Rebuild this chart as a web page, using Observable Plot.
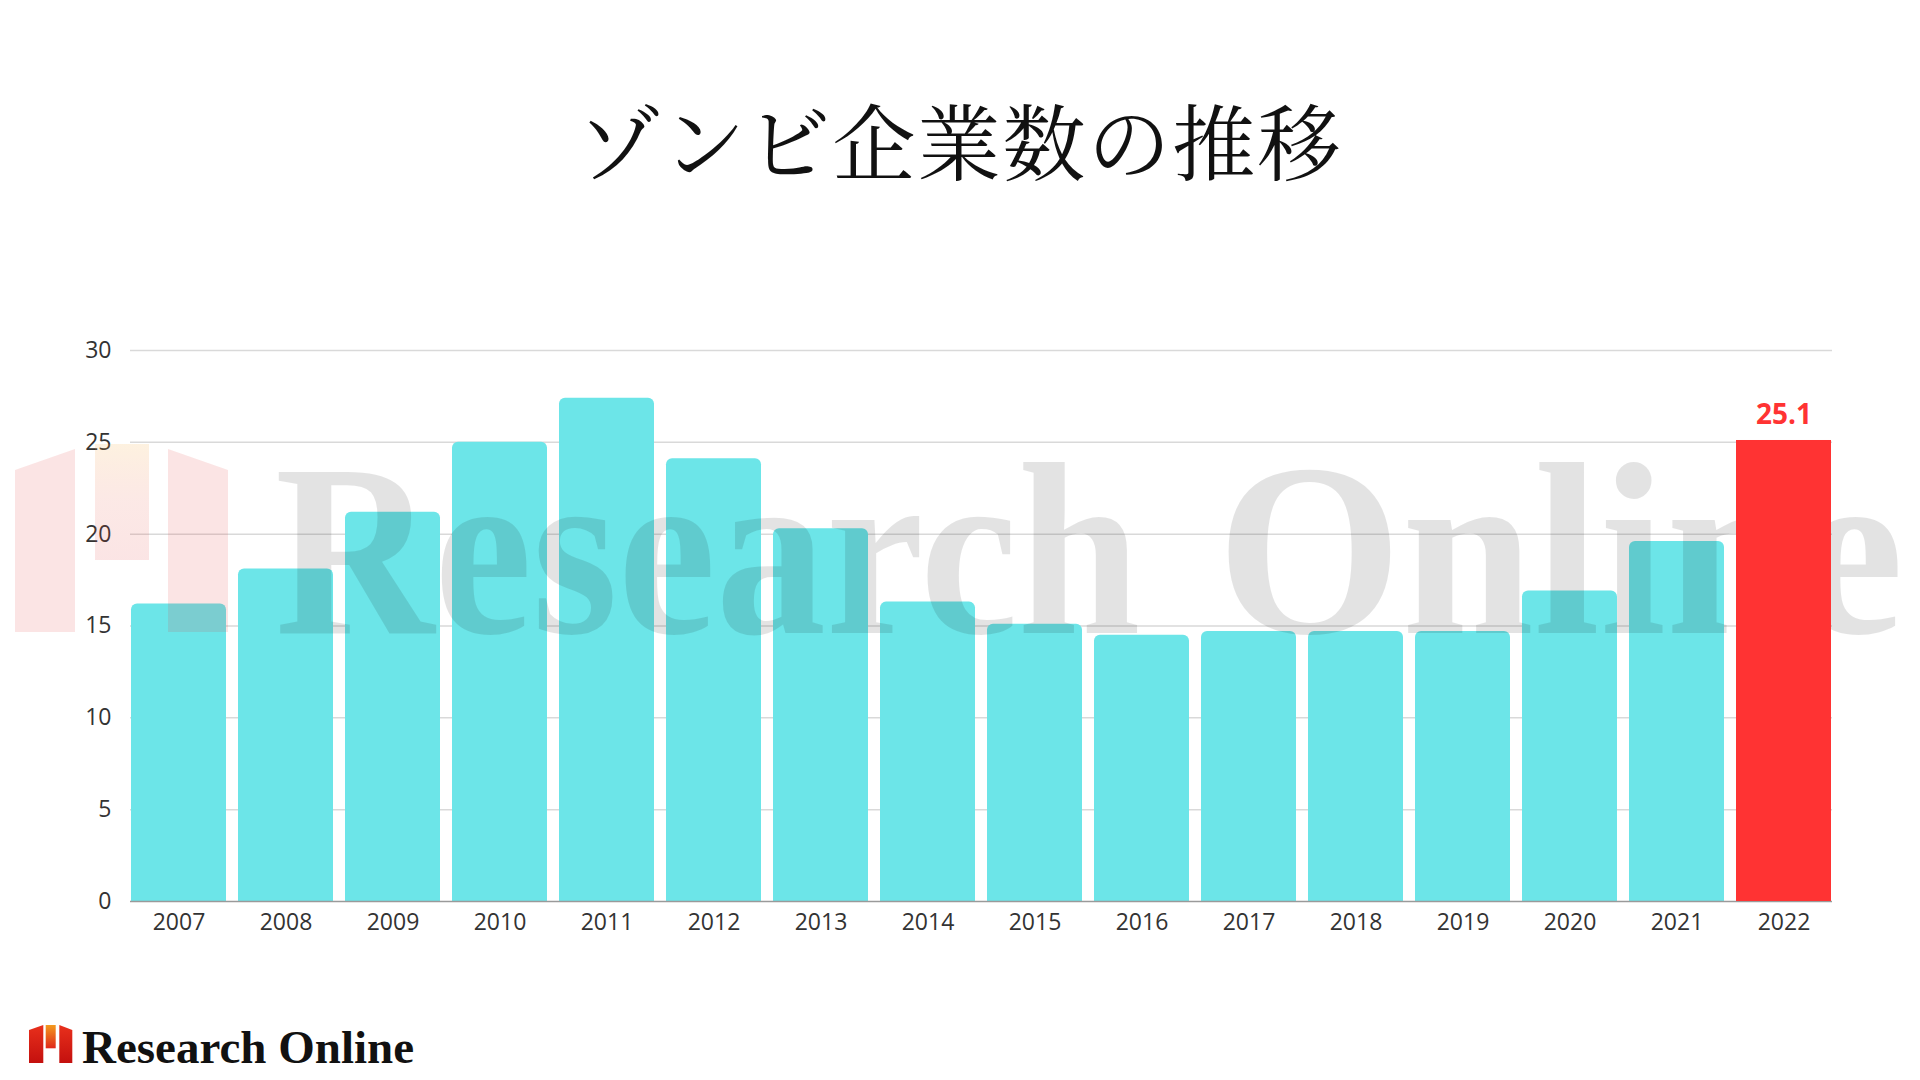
<!DOCTYPE html>
<html>
<head>
<meta charset="utf-8">
<script src="https://cdn.jsdelivr.net/npm/d3@7"></script>
<script src="https://cdn.jsdelivr.net/npm/@observablehq/plot@0.6"></script>
<style>
  html, body { margin: 0; padding: 0; background: #ffffff; }
  #page { position: relative; width: 1920px; height: 1080px; overflow: hidden; background: #fff; }
  #title {
    position: absolute; left: 0; top: 97px; width: 1920px; text-align: center;
    font-family: "Noto Serif CJK JP", "Noto Sans CJK JP", serif;
    font-size: 83px; line-height: 83px; color: #111; font-weight: 400; letter-spacing: 2px;
  }
  .layer { position: absolute; left: 0; top: 0; }
  .layer svg { display: block; }
  .overlay { position: absolute; left: 0; top: 0; pointer-events: none; }
</style>
</head>
<body>
<div id="page">
  <div id="title">ゾンビ企業数の推移</div>
  <div id="chart" class="layer"></div>
  <svg class="overlay" width="1920" height="1080" viewBox="0 0 1920 1080">
    <defs>
      <linearGradient id="wmMid" x1="0" y1="0" x2="0" y2="1">
        <stop offset="0" stop-color="rgba(245,170,60,0.16)"/>
        <stop offset="0.5" stop-color="rgba(230,80,60,0.13)"/>
        <stop offset="1" stop-color="rgba(225,50,50,0.13)"/>
      </linearGradient>
      <linearGradient id="logoRed" x1="0" y1="0" x2="0" y2="1">
        <stop offset="0" stop-color="#e8301c"/>
        <stop offset="1" stop-color="#c4100e"/>
      </linearGradient>
      <linearGradient id="logoMid" x1="0" y1="0" x2="0" y2="1">
        <stop offset="0" stop-color="#f39a1e"/>
        <stop offset="1" stop-color="#e0281a"/>
      </linearGradient>
    </defs>
    <!-- watermark logo -->
    <polygon points="15,470 75,449 75,632 15,632" fill="rgba(225,50,50,0.13)"/>
    <rect x="95" y="444" width="54" height="116" fill="url(#wmMid)"/>
    <polygon points="168,449 228,470 228,632 168,632" fill="rgba(225,50,50,0.13)"/>
    <!-- watermark text -->
    <g font-family="Liberation Serif, DejaVu Serif, serif" font-weight="bold" font-size="245" fill="rgba(0,0,0,0.11)">
      <text x="0" y="0" transform="translate(275,633) scale(0.90,1)">Research</text>
      <text x="0" y="0" transform="translate(1217,633) scale(0.97,1)">Online</text>
    </g>
    <!-- footer logo -->
    <polygon points="29,1030 43.3,1025 43.3,1063 29,1063" fill="url(#logoRed)"/>
    <rect x="45.7" y="1025" width="10" height="23.3" fill="url(#logoMid)"/>
    <polygon points="59.3,1025 72.3,1030 72.3,1063 59.3,1063" fill="url(#logoRed)"/>
    <text x="82" y="1063" font-family="Liberation Serif, DejaVu Serif, serif" font-weight="bold"
          font-size="47" fill="#111">Research Online</text>
  </svg>
  <div id="chartTop" class="layer"></div>
</div>
<script>
const years = ["2007","2008","2009","2010","2011","2012","2013","2014","2015","2016","2017","2018","2019","2020","2021","2022"];
const values = [16.2, 18.1, 21.2, 25.0, 27.4, 24.1, 20.3, 16.3, 15.1, 14.5, 14.7, 14.7, 14.7, 16.9, 19.6, 25.1];
const highlightYear = "2022";
const yTicks = [0, 5, 10, 15, 20, 25, 30];

const data = years.map((year, i) => ({year, value: values[i]}));
const normal = data.filter(d => d.year !== highlightYear);
const highlight = data.filter(d => d.year === highlightYear);

const base = {
  width: 1920,
  height: 1080,
  marginLeft: 130,
  marginRight: 88,
  marginTop: 350,
  marginBottom: 179,
  style: {fontFamily: "'Open Sans', sans-serif", fontSize: "23px", color: "#333", background: "transparent"}
};

const chart = Plot.plot({
  ...base,
  x: {domain: years, paddingInner: 0.11, paddingOuter: 0, label: null},
  y: {domain: [0, 30], ticks: yTicks, label: null},
  marks: [
    Plot.ruleY(yTicks.filter(t => t > 0), {stroke: "#d9d9d9", strokeWidth: 1.5, strokeOpacity: 1}),
    Plot.barY(normal, {x: "year", y: "value", fill: "#6ce5e8", ry1: 6}),
    Plot.ruleY([0], {stroke: "#9a9a9a", strokeWidth: 1.5}),
    Plot.axisY({ticks: yTicks, tickSize: 0, tickPadding: 19, fontSize: 23, fill: "#333", label: null}),
    Plot.axisX({tickSize: 0, tickPadding: 12, fontSize: 23, fill: "#333", label: null})
  ]
});
document.getElementById("chart").appendChild(chart);

const chartTop = Plot.plot({
  ...base,
  x: {domain: years, paddingInner: 0.11, paddingOuter: 0, axis: null},
  y: {domain: [0, 30], axis: null},
  marks: [
    Plot.barY(highlight, {x: "year", y: "value", fill: "#ff3333"}),
    Plot.text(highlight, {x: "year", y: "value", text: d => d.value.toFixed(1), dy: -16, lineAnchor: "bottom",
      fill: "#ff3333", fontWeight: "bold", fontSize: 28})
  ]
});
document.getElementById("chartTop").appendChild(chartTop);
</script>
</body>
</html>
